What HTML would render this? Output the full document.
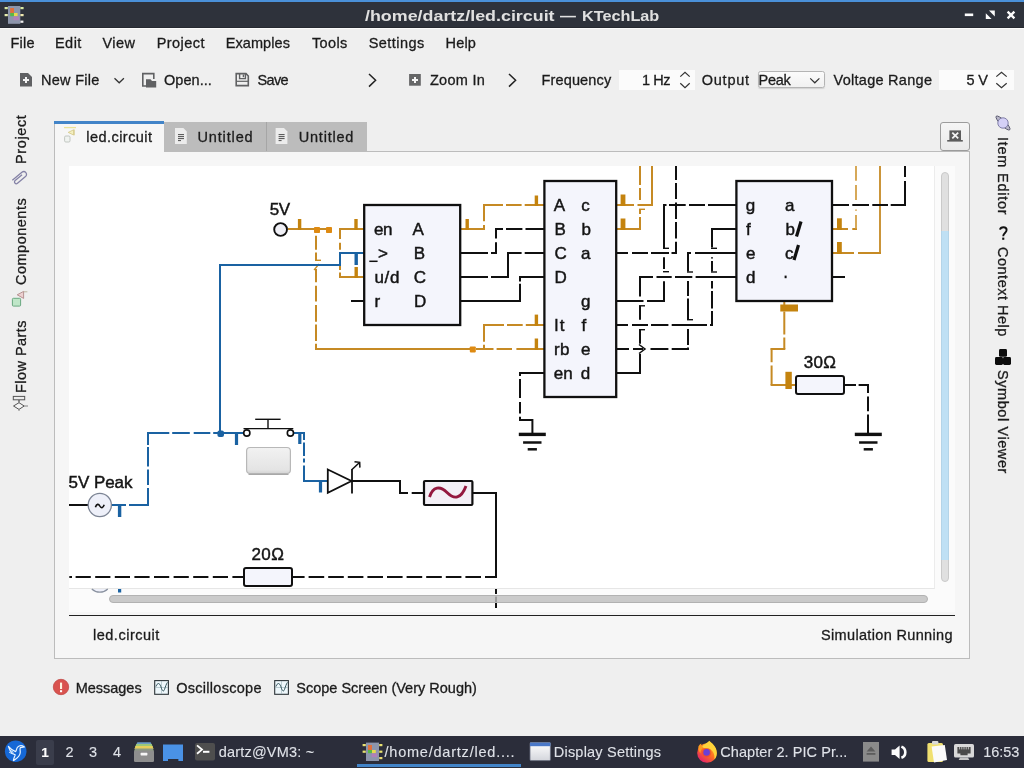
<!DOCTYPE html>
<html><head><meta charset="utf-8"><title>KTechLab</title>
<style>
html,body{margin:0;padding:0}
body{width:1024px;height:768px;overflow:hidden;background:#efefef;position:relative;font-family:"Liberation Sans",sans-serif}
.a{position:absolute}
.t{position:absolute;white-space:nowrap;line-height:1em;-webkit-text-stroke:0.3px;transform-origin:0 0;font-family:"Liberation Sans",sans-serif}
svg{position:absolute;overflow:visible}
</style></head><body>
<!-- title bar -->
<div class="a" style="left:0;top:0;width:1024px;height:28px;background:#2e323b;border-bottom:1px solid #262930;box-sizing:border-box"></div>
<div class="a" style="left:0;top:0;width:1024px;height:2px;background:#4a90d9"></div>
<div class="a" style="left:0;top:28px;width:1024px;height:1px;background:#fafafa"></div>
<!-- tabs -->
<div class="a" style="left:164px;top:122px;width:203px;height:30px;background:#bcbcbc"></div>
<div class="a" style="left:266px;top:122px;width:1px;height:30px;background:#a6a6a6"></div>
<!-- frame -->
<div class="a" style="left:54px;top:151px;width:914px;height:506px;border:1px solid #bcbcbc;background:#f6f6f6"></div>
<div class="a" style="left:54px;top:121px;width:110px;height:31px;background:#f6f6f6;border-left:1px solid #bcbcbc;box-sizing:border-box"></div>
<div class="a" style="left:54px;top:121px;width:110px;height:3px;background:#4284c8"></div>
<!-- close tab button -->
<div class="a" style="left:940px;top:122px;width:28px;height:27px;border:1px solid #9c9c9c;border-radius:3px;background:linear-gradient(#f5f5f5,#eaeaea)"></div>
<!-- canvas -->
<div class="a" style="left:69px;top:166px;width:886px;height:446px;background:#fbfbfb"></div>
<div class="a" style="left:69px;top:166px;width:865px;height:422px;background:#ffffff;border-bottom:1px solid #e6e6e6;border-right:1px solid #ececec"></div>
<svg style="left:69px;top:166px" width="865" height="422" viewBox="69 166 865 422">
<path d="M288,229 H332" stroke="#c68a24" stroke-width="2" fill="none" />
<path d="M299.6,219 V230" stroke="#c4830e" stroke-width="3.4" fill="none" />
<path d="M316,235.7 V249.7 M316,252.4 V260.3 M316,269 V282.2 M316,285.7 V301.6 M316,305 V321.8 M316,324.4 V341 M316,343.7 V349" stroke="#c68a24" stroke-width="2" fill="none" />
<path d="M315,260.3 H321" stroke="#c68a24" stroke-width="1.4" fill="none" />
<path d="M314,270 L319,264" stroke="#c68a24" stroke-width="1.2" fill="none" />
<path d="M315,349 H470 M476,349 H493.5 M496.6,349 H512 M516.4,349 H544" stroke="#c68a24" stroke-width="2" fill="none" />
<path d="M339,229 H364" stroke="#c68a24" stroke-width="2" fill="none" />
<path d="M356,219 V230" stroke="#c4830e" stroke-width="3.4" fill="none" />
<path d="M340,229 V239 M340,242.7 V249.7 M340,265 V270 M340,272.6 V277" stroke="#c68a24" stroke-width="2" fill="none" />
<path d="M339,277 H364" stroke="#c68a24" stroke-width="2" fill="none" />
<path d="M356.2,267 V278" stroke="#c4830e" stroke-width="3.4" fill="none" />
<path d="M460,229 H485" stroke="#c68a24" stroke-width="2" fill="none" />
<path d="M467.2,219 V230" stroke="#c4830e" stroke-width="3.4" fill="none" />
<path d="M484,205 V221.3 M484,225 V229" stroke="#c68a24" stroke-width="2" fill="none" />
<path d="M483,205 H503 M506,205 H521.6 M524.7,205 H544" stroke="#c68a24" stroke-width="2" fill="none" />
<path d="M536.4,195.5 V206" stroke="#c4830e" stroke-width="3.4" fill="none" />
<path d="M483,325 H504 M507,325 H522.7 M525.8,325 H544" stroke="#c68a24" stroke-width="2" fill="none" />
<path d="M484,325 V341.7 M484,344.8 V349" stroke="#c68a24" stroke-width="2" fill="none" />
<path d="M536.4,314.6 V326" stroke="#c4830e" stroke-width="3.4" fill="none" />
<path d="M536.4,338.5 V350" stroke="#c4830e" stroke-width="3.4" fill="none" />
<path d="M616,205 H634 M637.5,205 H653" stroke="#c68a24" stroke-width="2" fill="none" />
<path d="M652,166 V205" stroke="#c68a24" stroke-width="2" fill="none" />
<path d="M623,194.5 V206" stroke="#c4830e" stroke-width="4.8" fill="none" />
<path d="M640,166 V185 M640,188 V200 M640,209 V214 M640,217 V229" stroke="#c68a24" stroke-width="2" fill="none" />
<path d="M639,209.3 H645" stroke="#c68a24" stroke-width="1.4" fill="none" />
<path d="M616,229 H641" stroke="#c68a24" stroke-width="2" fill="none" />
<path d="M623,218.5 V230" stroke="#c4830e" stroke-width="4.8" fill="none" />
<path d="M832,229 H848 M852.3,229 H857" stroke="#c68a24" stroke-width="2" fill="none" />
<path d="M856,166 V180.8 M856,185 V200 M856,209.5 V210.8 M856,215 V229" stroke="#d09a3c" stroke-width="1.7" fill="none" />
<path d="M839.4,218.3 V230" stroke="#c4830e" stroke-width="4.8" fill="none" />
<path d="M832,253 H854 M858,253 H881" stroke="#c68a24" stroke-width="2" fill="none" />
<path d="M880,166 V253" stroke="#c68a24" stroke-width="1.8" fill="none" />
<path d="M839.4,242 V254" stroke="#c4830e" stroke-width="4.8" fill="none" />
<path d="M784.3,300 V305 M784.3,311.4 V334.4 M784.3,337.6 V349" stroke="#c68a24" stroke-width="2" fill="none" />
<path d="M770.6,349 H785.3" stroke="#c68a24" stroke-width="2" fill="none" />
<path d="M771.6,348.3 V362.2 M771.6,365.4 V385" stroke="#c68a24" stroke-width="2" fill="none" />
<path d="M770.6,385 H796" stroke="#c68a24" stroke-width="2" fill="none" />
<rect x="780.3" y="304.5" width="17.7" height="7" fill="#c4830e" rx="0"/>
<path d="M788.6,371.8 V389" stroke="#c4830e" stroke-width="6.4" fill="none" />
<rect x="314" y="227" width="6" height="6" fill="#de8a12" rx="0.8"/>
<rect x="326" y="227" width="6" height="6" fill="#de8a12" rx="0.8"/>
<rect x="469.8" y="346.4" width="6" height="6" fill="#de8a12" rx="0.8"/>
<path d="M351,301 H364" stroke="#101010" stroke-width="2" fill="none" />
<path d="M460,253 H488 M491,253 H497" stroke="#101010" stroke-width="2" fill="none" />
<path d="M496,228.3 V238.4 M496,242.3 V253.3" stroke="#101010" stroke-width="2" fill="none" />
<path d="M495,229 H503 M506,229 H522.4 M525.5,229 H544" stroke="#101010" stroke-width="2" fill="none" />
<path d="M460,277 H488 M491,277 H509" stroke="#101010" stroke-width="2" fill="none" />
<path d="M508,252 V277" stroke="#101010" stroke-width="2" fill="none" />
<path d="M507,253 H521.6 M524.7,253 H544" stroke="#101010" stroke-width="2" fill="none" />
<path d="M460,301 H521" stroke="#101010" stroke-width="2" fill="none" />
<path d="M520,276 V281.4 M520,283.7 V301" stroke="#101010" stroke-width="2" fill="none" />
<path d="M519,277 H544" stroke="#101010" stroke-width="2" fill="none" />
<path d="M519,373 H544" stroke="#101010" stroke-width="2" fill="none" />
<path d="M520,373 V376 M520,379 V398 M520,402 V413.5 M520,416.7 V421" stroke="#101010" stroke-width="2" fill="none" />
<path d="M519,420 H533" stroke="#101010" stroke-width="2" fill="none" />
<path d="M532.4,419 V434" stroke="#101010" stroke-width="2" fill="none" />
<path d="M676,166 V180 M676,183 V199 M676,202.5 V219 M676,222 V238.5 M676,241.7 V254" stroke="#101010" stroke-width="2" fill="none" />
<path d="M616,253 H628 M632,253 H648 M651,253 H669 M671.5,253 H677" stroke="#101010" stroke-width="2" fill="none" />
<path d="M616,301 H643.5 M647,301 H665" stroke="#101010" stroke-width="2" fill="none" />
<path d="M664,204 V248 M664,257.3 V269 M664,281.2 V301" stroke="#101010" stroke-width="2" fill="none" />
<path d="M663,248.3 H669" stroke="#101010" stroke-width="1.4" fill="none" />
<path d="M663,271.7 H669" stroke="#101010" stroke-width="1.4" fill="none" />
<path d="M663,205 H666.5 M669,205 H685.7 M689,205 H705 M708,205 H736" stroke="#101010" stroke-width="2" fill="none" />
<path d="M616,325 H628 M632,325 H648 M651,325 H668.4 M671.7,325 H707 M710,325 H713" stroke="#101010" stroke-width="2" fill="none" />
<path d="M712,228 V247.6 M712,257.3 V258.6 M712,261 V271.4 M712,281 V288.5 M712,291 V308.4 M712,311 V325" stroke="#101010" stroke-width="2" fill="none" />
<path d="M711,248.3 H717" stroke="#101010" stroke-width="1.4" fill="none" />
<path d="M711,272 H717" stroke="#101010" stroke-width="1.4" fill="none" />
<path d="M711,229 H736" stroke="#101010" stroke-width="2" fill="none" />
<path d="M616,349 H629 M633,349 H643 M650.5,349 H668.4 M671.7,349 H689" stroke="#101010" stroke-width="2" fill="none" />
<path d="M688,252 V271.4 M688,281 V296 M688,298.5 V319.4 M688,329 V345 M688,347.5 V349" stroke="#101010" stroke-width="2" fill="none" />
<path d="M687,272 H693" stroke="#101010" stroke-width="1.4" fill="none" />
<path d="M687,319.7 H693" stroke="#101010" stroke-width="1.4" fill="none" />
<path d="M687,253 H691 M695,253 H736" stroke="#101010" stroke-width="2" fill="none" />
<path d="M616,373 H641" stroke="#101010" stroke-width="2" fill="none" />
<path d="M640,277 V296.5 M640,305.8 V319.7 M640,329.7 V343.7 M640,353.7 V373" stroke="#101010" stroke-width="2" fill="none" />
<path d="M639,305.8 H645" stroke="#101010" stroke-width="1.4" fill="none" />
<path d="M639,329.7 H645" stroke="#101010" stroke-width="1.4" fill="none" />
<path d="M639,344.5 L645,349 L639,353.5" stroke="#101010" stroke-width="1.5" fill="none" />
<path d="M639,277 H653 M656.5,277 H671.7 M675,277 H692.3 M695.6,277 H736" stroke="#101010" stroke-width="2" fill="none" />
<path d="M832,205 H849 M852.3,205 H869 M872.3,205 H888 M890.7,205 H906" stroke="#101010" stroke-width="2" fill="none" />
<path d="M905,166 V177 M905,181 V205" stroke="#101010" stroke-width="2" fill="none" />
<path d="M832,277 H845" stroke="#101010" stroke-width="2" fill="none" />
<path d="M844,385 H856 M858.6,385 H869" stroke="#101010" stroke-width="2" fill="none" />
<path d="M868,384 V393 M868,396.4 V411.3 M868,414.5 V434" stroke="#101010" stroke-width="2" fill="none" />
<path d="M69.3,577 H72 M75.6,577 H90.8 M95.2,577 H110.4 M114.8,577 H130.0 M134.4,577 H149.6 M154.0,577 H169.2 M173.6,577 H188.8 M193.2,577 H208.4 M212.8,577 H228.0 M232.4,577 H244" stroke="#101010" stroke-width="2" fill="none" />
<path d="M292,577 H304.6 M308.6,577 H324.2 M328.2,577 H343.8 M347.8,577 H363.4 M367.4,577 H383.0 M387.0,577 H402.6 M406.6,577 H422.2 M426.2,577 H441.8 M445.8,577 H461.4 M465.4,577 H481.0 M485.0,577 H496" stroke="#101010" stroke-width="2" fill="none" />
<path d="M496,493 V578" stroke="#101010" stroke-width="2" fill="none" />
<path d="M472,493 H497" stroke="#101010" stroke-width="2" fill="none" />
<path d="M352,481 H401" stroke="#101010" stroke-width="2" fill="none" />
<path d="M400,481 V494" stroke="#101010" stroke-width="2" fill="none" />
<path d="M400,493 H408 M411.7,493 H424" stroke="#101010" stroke-width="2" fill="none" />
<path d="M69,505 H88" stroke="#101010" stroke-width="2" fill="none" />
<path d="M518.8,434.4 H545.8" stroke="#101010" stroke-width="3.4" fill="none" />
<path d="M523.0999999999999,442.5 H541.5" stroke="#101010" stroke-width="2.5" fill="none" />
<path d="M527.6999999999999,449.3 H536.9" stroke="#101010" stroke-width="2.5" fill="none" />
<path d="M854.8,434.4 H881.8" stroke="#101010" stroke-width="3.4" fill="none" />
<path d="M859.0999999999999,442.5 H877.5" stroke="#101010" stroke-width="2.5" fill="none" />
<path d="M863.6999999999999,449.3 H872.9" stroke="#101010" stroke-width="2.5" fill="none" />
<path d="M219,265 H340 V253 H364" stroke="#1a62a2" stroke-width="2" fill="none" />
<path d="M356.2,253 V265" stroke="#1a62a2" stroke-width="3.4" fill="none" />
<path d="M220,265 V433" stroke="#1a62a2" stroke-width="2" fill="none" />
<path d="M147,433 H169.3 M172.2,433 H189.8 M193.7,433 H210.3 M213.2,433 H245.5" stroke="#1a62a2" stroke-width="2" fill="none" />
<path d="M148,433 V445 M148,447 V466.6 M148,469.6 V485 M148,488 V506" stroke="#1a62a2" stroke-width="2" fill="none" />
<rect x="217.4" y="430.4" width="6.6" height="6.6" rx="2" fill="#1a62a2"/>
<path d="M236.5,433 V445" stroke="#1a62a2" stroke-width="3.2" fill="none" />
<path d="M112,505 H126 M129,505 H149" stroke="#1a62a2" stroke-width="2" fill="none" />
<path d="M119.6,505 V517" stroke="#1a62a2" stroke-width="3.4" fill="none" />
<path d="M293.5,433 H305" stroke="#1a62a2" stroke-width="2" fill="none" />
<path d="M304,433 V440 M304,442.5 V456 M304,458.5 V462.5 M304,465.5 V481" stroke="#1a62a2" stroke-width="2" fill="none" />
<path d="M303,481 H328" stroke="#1a62a2" stroke-width="2" fill="none" />
<path d="M299.8,433 V444" stroke="#1a62a2" stroke-width="3.2" fill="none" />
<path d="M320.5,481 V492.5" stroke="#1a62a2" stroke-width="3.2" fill="none" />
<rect x="364.2" y="205" width="96" height="120" fill="#f4f5fc" stroke="#101010" stroke-width="2.3" rx="0"/>
<rect x="544.4" y="181" width="71.8" height="216" fill="#f4f5fc" stroke="#101010" stroke-width="2.3" rx="0"/>
<rect x="736.4" y="181" width="95.6" height="120" fill="#f4f5fc" stroke="#101010" stroke-width="2.3" rx="0"/>
<rect x="796" y="376" width="48" height="18" fill="#f4f5fc" stroke="#101010" stroke-width="2" rx="2"/>
<rect x="244" y="568" width="48" height="18" fill="#f4f5fc" stroke="#101010" stroke-width="2" rx="2"/>
<circle cx="280.6" cy="229.5" r="6.4" fill="#f0f0f6" stroke="#101010" stroke-width="1.9"/>
<circle cx="99.8" cy="505" r="11.6" fill="#eef0f9" stroke="#7c8494" stroke-width="1.3"/>
<path d="M95.4,507.3 C96.6,503.6 98.6,503.6 99.8,506 C101,508.4 103,508.4 104.2,504.8" stroke="#101010" stroke-width="1.6" fill="none" />
<path d="M369.3,261.3 H377.6" stroke="#101010" stroke-width="1.5" fill="none" />
<rect x="784.6" y="275.6" width="2" height="2.6" fill="#101010" rx="0"/>
<path d="M801,221.5 L796.5,236.5" stroke="#101010" stroke-width="3.2" fill="none" />
<path d="M798.5,245 L794,260" stroke="#101010" stroke-width="3.2" fill="none" />
<path d="M243.5,428.6 H293.3" stroke="#101010" stroke-width="1.4" fill="none" />
<path d="M268,419.2 V428.6" stroke="#101010" stroke-width="1.4" fill="none" />
<path d="M255.2,419.3 H280.6" stroke="#101010" stroke-width="1.4" fill="none" />
<circle cx="246.8" cy="433" r="3.1" fill="#fff" stroke="#101010" stroke-width="1.6"/>
<circle cx="290.4" cy="433" r="3.1" fill="#fff" stroke="#101010" stroke-width="1.6"/>
<defs><linearGradient id="bg" x1="0" y1="0" x2="0" y2="1"><stop offset="0" stop-color="#f2f2f2"/><stop offset="0.85" stop-color="#e4e4e4"/><stop offset="1" stop-color="#d4d4d4"/></linearGradient></defs>
<rect x="246.6" y="447.5" width="43.8" height="26" rx="3.5" fill="url(#bg)" stroke="#b8b8b8" stroke-width="1.2"/>
<path d="M248.5,474.3 H288.5" stroke="#a8a8a8" stroke-width="1.2" fill="none" />
<path d="M327.8,469.5 L351.5,481 L327.8,492.7 Z" fill="#fff" stroke="#101010" stroke-width="1.8"/>
<path d="M352,469 V493.5" stroke="#101010" stroke-width="1.8" fill="none" />
<path d="M352,469.5 L359,463 M354.5,461.7 L359.7,462.3 L359.9,467.6" stroke="#101010" stroke-width="1.5" fill="none" />
<rect x="424" y="481" width="48.4" height="24" fill="#f3f0f6" stroke="#101010" stroke-width="2.2" rx="1"/>
<path d="M429.5,497 C433,486.5 440,485.5 447,492.5 C454,499.5 461,499.5 466,486" stroke="#94193f" stroke-width="2.9" fill="none" />
</svg>
<svg style="left:69px;top:588px" width="865" height="24" viewBox="69 588 865 24">
<path d="M496,589 V608" stroke="#101010" stroke-width="2" stroke-dasharray="5 2.5 14 3"/>
<path d="M91.8,589 A11.6,11.6 0 0 0 107.8,589" stroke="#8a92a0" stroke-width="1.2" fill="#eef0f9"/>
<path d="M119.6,589 V592.5" stroke="#1a62a2" stroke-width="3.2"/>
</svg>
<!-- scrollbars -->
<div class="a" style="left:109px;top:595px;width:819px;height:8px;border-radius:4px;background:rgba(190,190,190,0.8);border:1px solid #b2b2b2;box-sizing:border-box"></div>
<div class="a" style="left:941px;top:172px;width:8px;height:410px;border-radius:4px;background:#e0e0e0;border:1px solid #cacaca;box-sizing:border-box"></div>
<div class="a" style="left:941px;top:231px;width:8px;height:329px;background:#bfe0f4;border-left:1px solid #b4d4e8;border-right:1px solid #b4d4e8;box-sizing:border-box"></div>
<!-- status separator -->
<div class="a" style="left:69px;top:615px;width:886px;height:1px;background:#222"></div>
<!-- combobox, spinboxes -->
<div class="a" style="left:619px;top:70px;width:76px;height:20px;background:#fbfbfb"></div>
<div class="a" style="left:939px;top:70px;width:75px;height:20px;background:#fbfbfb"></div>
<div class="a" style="left:758px;top:71px;width:65px;height:15px;border:1px solid #b4b4b4;border-radius:2.5px;background:linear-gradient(#fbfbfb,#f1f1f1);box-shadow:0 1px 1px rgba(0,0,0,0.12)"></div>
<!-- taskbar -->
<div class="a" style="left:0;top:736px;width:1024px;height:32px;background:#2b2d3a"></div>
<div class="a" style="left:36px;top:740px;width:18px;height:25px;background:#3a3d4b;border-radius:2px"></div>
<div class="a" style="left:357px;top:764px;width:164px;height:3px;background:#4284c8"></div>
<svg style="left:0;top:0" width="1024" height="768" viewBox="0 0 1024 768">
<defs>
<linearGradient id="ffg" x1="0" y1="0" x2="0" y2="1"><stop offset="0" stop-color="#ffbd2e"/><stop offset="0.55" stop-color="#ff6a1f"/><stop offset="1" stop-color="#e8255f"/></linearGradient>
<linearGradient id="ffg2" x1="0.85" y1="0.1" x2="0.2" y2="0.95"><stop offset="0" stop-color="#ffb52a"/><stop offset="0.5" stop-color="#ff6a22"/><stop offset="1" stop-color="#e21f6e"/></linearGradient>
<linearGradient id="dsg" x1="0" y1="0" x2="0" y2="1"><stop offset="0" stop-color="#ffffff"/><stop offset="1" stop-color="#d4d6dc"/></linearGradient>
</defs>
<!-- app icon in title bar -->
<g>
<rect x="8" y="6" width="12.3" height="17.8" fill="#8c95ab"/>
<rect x="10.2" y="8" width="3.8" height="5.2" fill="#e0703c"/>
<rect x="10.2" y="13" width="3.8" height="3.2" fill="#58b848"/>
<rect x="14" y="13" width="3.6" height="3.2" fill="#e6d850"/>
<rect x="13.5" y="16.4" width="5.5" height="3.8" fill="#b080b8"/>
<rect x="4.6" y="7" width="3.2" height="2.2" fill="#d8e8a0"/><rect x="4.6" y="14" width="3.2" height="2.2" fill="#e8f0b0"/>
<rect x="20.4" y="7" width="3.2" height="2.2" fill="#d8e8a0"/><rect x="20.4" y="14" width="3.2" height="2.2" fill="#efe8b0"/>
<rect x="20.4" y="20.6" width="3" height="2.2" fill="#f0f0f0"/>
</g>
<!-- window buttons -->
<rect x="964.8" y="13.5" width="8.4" height="2.6" fill="#fcfcfc"/>
<path d="M989,10.600 H994.800 V16.400 Z M985.800,13.200 V19 H991.600 Z" fill="#fcfcfc"/>
<path d="M1007.600,11.600 L1014.400,18.400 M1014.400,11.600 L1007.600,18.400" stroke="#fcfcfc" stroke-width="2.300"/>
<!-- toolbar: new file -->
<path d="M20,73 H28 L32,77 V86.5 H20 Z" fill="#606163"/>
<path d="M23,80 H29 M26,77 V83" stroke="#f4f4f4" stroke-width="2"/>
<path d="M114.5,78.3 L119.2,82.8 L123.9,78.3" stroke="#333" stroke-width="1.3" fill="none"/>
<!-- open -->
<path d="M147,86 H142.8 V73.6 H153.8 V79" stroke="#606163" stroke-width="1.6" fill="none"/>
<path d="M146,79.3 H150.5 L152,81 H156.2 V87.4 H146 Z" fill="#606163"/>
<!-- save -->
<path d="M236.2,73.6 H246 L248.3,76 V85.6 H236.2 Z" stroke="#606163" stroke-width="1.6" fill="none"/>
<path d="M239.6,73.6 V78.6 H245.4 V73.6" stroke="#606163" stroke-width="1.4" fill="none"/>
<path d="M243.4,74.5 V77.2" stroke="#606163" stroke-width="1.4"/>
<path d="M236.2,81.3 H248.3" stroke="#606163" stroke-width="1.2"/>
<!-- chevrons -->
<path d="M369,74 L375.6,80.3 L369,86.6" stroke="#222" stroke-width="1.5" fill="none"/>
<path d="M509,74 L515.6,80.3 L509,86.6" stroke="#222" stroke-width="1.5" fill="none"/>
<!-- zoom in -->
<rect x="409.1" y="74" width="11.7" height="11.7" fill="#666768"/>
<path d="M412,79.9 H418 M415,76.9 V82.9" stroke="#f6f6f6" stroke-width="2"/>
<!-- spin arrows -->
<path d="M680.3,76.6 L685,72.2 L689.7,76.6 M680.3,83.2 L685,87.6 L689.7,83.2" stroke="#333" stroke-width="1.2" fill="none"/>
<path d="M996.3,76.6 L1001.5,72.2 L1006.7,76.6 M996.3,83.2 L1001.5,87.6 L1006.7,83.2" stroke="#333" stroke-width="1.2" fill="none"/>
<path d="M810.2,78.4 L814.8,82.8 L819.4,78.4" stroke="#333" stroke-width="1.2" fill="none"/>
<!-- close-tab icon -->
<rect x="949.4" y="130.4" width="11.6" height="10" fill="#5c5c5c"/>
<path d="M952.3,132.6 L958.2,138.4 M958.2,132.6 L952.3,138.4" stroke="#f4f4f4" stroke-width="1.8"/>
<rect x="947.2" y="140" width="15.6" height="1.6" fill="#5c5c5c"/>
<!-- tab icons -->
<g opacity="0.75">
<path d="M64,127.6 H76" stroke="#e6dc78" stroke-width="1.3"/>
<path d="M68.2,132.4 L73.6,129.8 V135 Z" fill="#f4eeb0" stroke="#c8b860" stroke-width="0.8"/>
<path d="M74.2,129.5 V135.3" stroke="#c8b860" stroke-width="0.9"/>
<rect x="64.6" y="136" width="5.4" height="6" rx="1.2" fill="#eef2ee" stroke="#a8b0a8" stroke-width="0.9"/>
</g>
<g>
<path d="M175,128 H183.4 L186.8,131.4 V144 H175 Z" fill="#ececec"/>
<path d="M178,134.6 H184 M178,136.6 H184 M178,138.6 H184 M178,140.6 H181" stroke="#3c3c3c" stroke-width="0.9"/>
</g>
<g transform="translate(100.6,0)">
<path d="M175,128 H183.4 L186.8,131.4 V144 H175 Z" fill="#ececec"/>
<path d="M178,134.6 H184 M178,136.6 H184 M178,138.6 H184 M178,140.6 H181" stroke="#3c3c3c" stroke-width="0.9"/>
</g>
<!-- left sidebar icons -->
<g transform="translate(19.5,178) rotate(-40)" fill="none" stroke="#8482a6" stroke-width="1.3">
<path d="M-7,-2.8 H5.5 A2.8,2.8 0 0 1 5.5,2.8 H-5 A1.8,1.8 0 0 1 -5,-0.8 H4"/>
</g>
<rect x="12.4" y="298.300" width="8.200" height="7.800" rx="1" fill="#bfe6c8" stroke="#6aa880" stroke-width="1"/>
<path d="M17.2,294.800 L23.600,291.400 V298.400 Z" fill="#ecd0d0" stroke="#b08a8a" stroke-width="0.9"/>
<path d="M23.600,291.800 H27.400" stroke="#b8b098" stroke-width="0.9"/>
<rect x="13.300" y="396.400" width="11.400" height="3.400" fill="#ececec" stroke="#555" stroke-width="1"/>
<path d="M19,400 V402.600" stroke="#555" stroke-width="1.300"/>
<path d="M13.500,406 L19,402.700 L24.200,406 L19,409.400 Z" fill="#f4f4f4" stroke="#555" stroke-width="1"/>
<path d="M24.200,406 H28 M19,409.500 V411" stroke="#777" stroke-width="0.9"/>
<!-- right sidebar icons -->
<g transform="translate(1003,123) rotate(45)">
<ellipse cx="0" cy="0" rx="9.600" ry="2.600" fill="#b8b6c8" stroke="#55546a" stroke-width="0.9"/>
<circle cx="0" cy="0" r="5.200" fill="#d4d0f6" stroke="#7c7aa4" stroke-width="0.9"/>
</g>
<path d="M1000,229.600 C1000.600,226.600 1006.600,226.300 1006.600,230 C1006.600,232.800 1003.200,233.200 1003.200,236.200" stroke="#111" stroke-width="1.900" fill="none"/>
<rect x="1002.200" y="237.600" width="2.100" height="2.200" fill="#111"/>
<rect x="999" y="349" width="8" height="7.800" rx="1.400" fill="#0c0c0c"/>
<rect x="995" y="357" width="8" height="8" rx="1.400" fill="#0c0c0c"/><rect x="1003" y="357" width="8" height="8" rx="1.400" fill="#0c0c0c"/>
<!-- bottom: messages icon -->
<circle cx="61" cy="687" r="7.700" fill="#d9534f" stroke="#c24a48" stroke-width="0.8"/>
<rect x="60" y="682.600" width="2.100" height="6.400" fill="#fff4e0"/><rect x="60" y="690.200" width="2.100" height="2" fill="#fff"/>
<!-- scope icons -->
<g>
<rect x="154.700" y="680.600" width="13.700" height="13.700" fill="#eef7fb" stroke="#2c3438" stroke-width="1.100"/>
<path d="M161.500,681 V694 M155,687.500 H168" stroke="#9ab0b8" stroke-width="0.600"/>
<path d="M156,686.500 C157.500,682.500 159.500,682.500 160.800,686.500 C162,690.500 163.500,692.500 164.500,689.500 C165.500,686.500 166.300,684 167.400,682.400" stroke="#34545c" stroke-width="1" fill="none"/>
</g>
<g transform="translate(120,0)">
<rect x="154.700" y="680.600" width="13.700" height="13.700" fill="#eef7fb" stroke="#2c3438" stroke-width="1.100"/>
<path d="M161.500,681 V694 M155,687.500 H168" stroke="#9ab0b8" stroke-width="0.600"/>
<path d="M156,686.500 C157.500,682.500 159.500,682.500 160.800,686.500 C162,690.500 163.500,692.500 164.500,689.500 C165.500,686.500 166.300,684 167.400,682.400" stroke="#34545c" stroke-width="1" fill="none"/>
</g>
<!-- taskbar icons -->
<circle cx="15.700" cy="751.200" r="10.800" fill="#1668d6"/>
<path d="M8.400,746.400 C9.600,750.400 11.800,753.800 15.200,754.800 C14.600,756.800 13.600,758.200 13.400,760.600 C16,758.600 19.600,757.200 20.200,753 C20.600,750.400 19.400,748.800 20.400,747.600 L24.400,747 C22.400,745.600 19.400,745.400 17.600,747.200 C16.200,748.600 16.600,750.800 15.600,751.600 C12.800,750.600 10.400,748.800 8.400,746.400 Z" fill="none" stroke="#e8f4ff" stroke-width="1.200" stroke-linejoin="round"/>
<path d="M9.400,749.600 L13.400,752.400 M9,752 L12.400,754" stroke="#d0e8ff" stroke-width="1"/>
<!-- file manager -->
<path d="M137.400,742.200 H150.600 L152,745 H136 Z" fill="#6a9cc4"/>
<path d="M136.400,744 H151.600 L153,747 H135 Z" fill="#9cc878"/>
<path d="M135.600,746 H152.400 L153.600,749 H134.400 Z" fill="#e6cf5a"/>
<path d="M135,748.400 H153 L154,751.400 H134 Z" fill="#8c9a82"/>
<rect x="134" y="750.600" width="20" height="11.400" rx="1.200" fill="#8e8e8e"/>
<rect x="140.600" y="752.800" width="6.800" height="2.600" rx="0.600" fill="#f6f6f6"/>
<!-- blue desktop icon -->
<path d="M163,744.600 H183 V761 H178.400 V759 H168 V761 H163 Z" fill="#4a92e6"/>
<!-- terminal -->
<rect x="195" y="743" width="20" height="17.600" rx="2" fill="#4e4e4e"/>
<path d="M197,745.400 L202,749.600 L197,753.800" stroke="#fff" stroke-width="1.800" fill="none"/>
<path d="M203,751.800 H209.400" stroke="#fff" stroke-width="2"/>
<!-- ktechlab task icon -->
<rect x="366" y="742.600" width="13" height="18.400" fill="#8c95ab"/>
<rect x="368" y="745" width="4" height="5.200" fill="#e0703c"/><rect x="368" y="750" width="4" height="3.200" fill="#58b848"/>
<rect x="372" y="750" width="3.800" height="3.200" fill="#e6d850"/><rect x="371.600" y="753.400" width="5.600" height="3.800" fill="#b080b8"/>
<rect x="362.600" y="744" width="3.200" height="2.200" fill="#e8e070"/><rect x="362.600" y="750.600" width="3.200" height="2.200" fill="#e8e070"/>
<rect x="379.200" y="744" width="3.200" height="2.200" fill="#e8e070"/><rect x="379.200" y="750.600" width="3.200" height="2.200" fill="#e8e070"/><rect x="379.200" y="757" width="3.200" height="2.200" fill="#e8d870"/>
<!-- display settings -->
<rect x="530" y="742.600" width="20.400" height="18" rx="1" fill="url(#dsg)" stroke="#6a7080" stroke-width="0.800"/>
<rect x="530" y="742.600" width="20.400" height="3.600" fill="#4a78c8"/>
<!-- firefox -->
<circle cx="707" cy="753" r="9.800" fill="url(#ffg2)"/>
<path d="M701.600,747 C703.600,744.400 706.600,743.600 709.400,740.800 C711.600,743 716.800,746.400 716.800,753 C716.800,756 715.600,758.400 714.400,759.600 C715.200,754 712.600,749.400 707.600,748.600 C705.400,748.200 703.200,748.200 701.600,747 Z" fill="#ffd43a"/>
<path d="M698.400,746.600 C699.200,744.800 700.400,743.800 701.200,743.400 C701.200,745 702.200,746.400 703.400,747.400 C701.400,749 700.400,751 700.400,753.400 C699,751.400 698,749 698.400,746.600 Z" fill="#ff9a1f"/>
<circle cx="706.800" cy="752.600" r="4.600" fill="#e8452c" opacity="0.550"/>
<circle cx="706.600" cy="752.400" r="3.300" fill="#6b3fd6"/>
<!-- tray: eject -->
<rect x="863" y="742" width="16" height="19.600" fill="#8a8a8a"/>
<path d="M866.600,751.400 L871,746.600 L875.400,751.400 Z" fill="#5c5c5c"/><rect x="866.600" y="753" width="8.800" height="1.800" fill="#5c5c5c"/>
<!-- volume -->
<path d="M891.600,749.400 H895 L899.600,745.400 V759 L895,755 H891.600 Z" fill="#fcfcfc"/>
<path d="M901.4,746.6 C906.6,748.6 906.6,755.8 901.4,757.8" stroke="#fcfcfc" stroke-width="2.6" fill="none"/>

<!-- clipboard -->
<rect x="927.400" y="743" width="15.600" height="19" rx="1.500" fill="#f0e070"/>
<rect x="932" y="741" width="6.400" height="3.600" rx="1" fill="#d8d8d8"/>
<path d="M931.600,746.600 L944.800,745 L947,760 L934,762.400 Z" fill="#fafafa"/>
<!-- network -->
<rect x="954" y="744" width="20" height="13.600" rx="1.600" fill="#d8d8d8"/>
<path d="M957.400,747 H970.600 V753.600 H967.600 V755.200 H960.400 V753.600 H957.400 Z" fill="#4a4a4a"/>
<path d="M959.600,747 V749.400 M961.800,747 V749.400 M964,747 V749.400 M966.200,747 V749.400 M968.400,747 V749.400" stroke="#d8d8d8" stroke-width="0.800"/>
<path d="M960,757.600 H968 L969.400,760 H958.600 Z" fill="#c4c4c4"/>
</svg>

<div class="a" style="left:0;top:0;width:1024px;height:768px;will-change:transform">
<span class="t" id="t0" style="font-size:14.5px;color:#1b1b1b;font-weight:400;letter-spacing:0.200px;left:10.50px;top:36.03px;">File</span>
<span class="t" id="t1" style="font-size:14.5px;color:#1b1b1b;font-weight:400;letter-spacing:0.450px;left:55.00px;top:36.03px;">Edit</span>
<span class="t" id="t2" style="font-size:14.5px;color:#1b1b1b;font-weight:400;letter-spacing:0.450px;left:102.50px;top:36.03px;">View</span>
<span class="t" id="t3" style="font-size:14.5px;color:#1b1b1b;font-weight:400;letter-spacing:0.436px;left:156.75px;top:36.03px;">Project</span>
<span class="t" id="t4" style="font-size:14.5px;color:#1b1b1b;font-weight:400;letter-spacing:0.069px;left:225.75px;top:36.03px;">Examples</span>
<span class="t" id="t5" style="font-size:14.5px;color:#1b1b1b;font-weight:400;letter-spacing:0.360px;left:312.00px;top:36.03px;">Tools</span>
<span class="t" id="t6" style="font-size:14.5px;color:#1b1b1b;font-weight:400;letter-spacing:0.444px;left:368.75px;top:36.03px;">Settings</span>
<span class="t" id="t7" style="font-size:14.5px;color:#1b1b1b;font-weight:400;letter-spacing:0.200px;left:445.50px;top:36.03px;">Help</span>
<span class="t" id="t8" style="font-size:14.5px;color:#1b1b1b;font-weight:400;letter-spacing:0.287px;left:41.00px;top:73.43px;">New File</span>
<span class="t" id="t9" style="font-size:14.5px;color:#1b1b1b;font-weight:400;letter-spacing:0.043px;left:164.00px;top:73.43px;">Open...</span>
<span class="t" id="t10" style="font-size:14.5px;color:#1b1b1b;font-weight:400;letter-spacing:-0.675px;left:257.50px;top:73.43px;">Save</span>
<span class="t" id="t11" style="font-size:14.5px;color:#1b1b1b;font-weight:400;letter-spacing:0.257px;left:430.00px;top:73.43px;">Zoom In</span>
<span class="t" id="t12" style="font-size:14.5px;color:#1b1b1b;font-weight:400;letter-spacing:0.144px;left:541.50px;top:73.43px;">Frequency</span>
<span class="t" id="t13" style="font-size:14.5px;color:#1b1b1b;font-weight:400;letter-spacing:-0.425px;left:642.00px;top:73.43px;">1 Hz</span>
<span class="t" id="t14" style="font-size:14.5px;color:#1b1b1b;font-weight:400;letter-spacing:0.758px;left:701.75px;top:73.43px;">Output</span>
<span class="t" id="t15" style="font-size:14.5px;color:#1b1b1b;font-weight:400;letter-spacing:-0.325px;left:758.60px;top:73.43px;">Peak</span>
<span class="t" id="t16" style="font-size:14.5px;color:#1b1b1b;font-weight:400;letter-spacing:0.277px;left:833.50px;top:73.43px;">Voltage Range</span>
<span class="t" id="t17" style="font-size:14.5px;color:#1b1b1b;font-weight:400;letter-spacing:-0.233px;left:966.60px;top:73.43px;">5 V</span>
<span class="t" id="t18" style="font-size:14.5px;color:#1b1b1b;font-weight:400;letter-spacing:0.459px;left:86.25px;top:129.93px;">led.circuit</span>
<span class="t" id="t19" style="font-size:14.5px;color:#1b1b1b;font-weight:400;letter-spacing:0.850px;left:197.50px;top:129.93px;">Untitled</span>
<span class="t" id="t20" style="font-size:14.5px;color:#1b1b1b;font-weight:400;letter-spacing:0.787px;left:298.75px;top:129.93px;">Untitled</span>
<span class="t" id="t21" style="font-size:14.5px;color:#1b1b1b;font-weight:400;letter-spacing:0.505px;left:93.00px;top:628.13px;">led.circuit</span>
<span class="t" id="t22" style="font-size:14.5px;color:#1b1b1b;font-weight:400;letter-spacing:0.336px;left:821.00px;top:628.13px;">Simulation Running</span>
<span class="t" id="t23" style="font-size:14.5px;color:#1b1b1b;font-weight:400;letter-spacing:-0.025px;left:75.75px;top:681.43px;">Messages</span>
<span class="t" id="t24" style="font-size:14.5px;color:#1b1b1b;font-weight:400;letter-spacing:0.275px;left:176.25px;top:681.43px;">Oscilloscope</span>
<span class="t" id="t25" style="font-size:14.5px;color:#1b1b1b;font-weight:400;letter-spacing:0.002px;left:296.25px;top:681.43px;">Scope Screen (Very Rough)</span>
<span class="t" id="t26" style="font-size:13.6px;color:#ffffff;font-weight:700;letter-spacing:-1.500px;left:41.30px;top:745.89px;-webkit-text-stroke:0.1px;">1</span>
<span class="t" id="t27" style="font-size:14.5px;color:#dfe2e8;font-weight:400;letter-spacing:-0.700px;left:65.50px;top:745.13px;-webkit-text-stroke:0.1px;">2</span>
<span class="t" id="t28" style="font-size:14.5px;color:#dfe2e8;font-weight:400;letter-spacing:-0.700px;left:89.00px;top:745.13px;-webkit-text-stroke:0.1px;">3</span>
<span class="t" id="t29" style="font-size:14.5px;color:#dfe2e8;font-weight:400;letter-spacing:0.300px;left:113.00px;top:745.13px;-webkit-text-stroke:0.1px;">4</span>
<span class="t" id="t30" style="font-size:14.5px;color:#dfe2e8;font-weight:400;letter-spacing:0.192px;left:218.75px;top:745.13px;-webkit-text-stroke:0.1px;">dartz@VM3: ~</span>
<span class="t" id="t31" style="font-size:14.5px;color:#dfe2e8;font-weight:400;letter-spacing:0.779px;left:384.50px;top:745.13px;-webkit-text-stroke:0.1px;">/home/dartz/led....</span>
<span class="t" id="t32" style="font-size:14.5px;color:#dfe2e8;font-weight:400;letter-spacing:0.222px;left:553.75px;top:745.13px;-webkit-text-stroke:0.1px;">Display Settings</span>
<span class="t" id="t33" style="font-size:14.5px;color:#dfe2e8;font-weight:400;letter-spacing:0.065px;left:720.30px;top:745.13px;-webkit-text-stroke:0.1px;">Chapter 2. PIC Pr...</span>
<span class="t" id="t34" style="font-size:14.5px;color:#dfe2e8;font-weight:400;letter-spacing:-0.080px;left:983.30px;top:745.13px;-webkit-text-stroke:0.1px;">16:53</span>
<span class="t" id="t35" style="font-size:15px;color:#e0e0e0;font-weight:700;letter-spacing:0.000px;left:365.00px;top:8.00px;transform:scaleX(1.1906);-webkit-text-stroke:0;">/home/dartz/led.circuit</span>
<span class="t" id="t36" style="font-size:15px;color:#e0e0e0;font-weight:700;letter-spacing:0.000px;left:559.80px;top:8.00px;transform:scaleX(1.0600);-webkit-text-stroke:0;">—</span>
<span class="t" id="t37" style="font-size:15px;color:#e0e0e0;font-weight:700;letter-spacing:0.000px;left:581.70px;top:8.00px;transform:scaleX(1.0817);-webkit-text-stroke:0;">KTechLab</span>
<span class="t" id="t38" style="font-size:14.5px;color:#1b1b1b;font-weight:400;letter-spacing:0.614px;left:13.98px;top:164.00px;transform:rotate(-90deg) scaleX(1.0000);">Project</span>
<span class="t" id="t39" style="font-size:14.5px;color:#1b1b1b;font-weight:400;letter-spacing:0.500px;left:13.98px;top:285.00px;transform:rotate(-90deg) scaleX(1.0000);">Components</span>
<span class="t" id="t40" style="font-size:14.5px;color:#1b1b1b;font-weight:400;letter-spacing:0.450px;left:13.98px;top:392.50px;transform:rotate(-90deg) scaleX(1.0000);">Flow Parts</span>
<span class="t" id="t41" style="font-size:14.5px;color:#1b1b1b;font-weight:400;letter-spacing:0.750px;left:1009.77px;top:136.75px;transform:rotate(90deg) scaleX(1.0000);">Item Editor</span>
<span class="t" id="t42" style="font-size:14.5px;color:#1b1b1b;font-weight:400;letter-spacing:0.500px;left:1009.77px;top:246.75px;transform:rotate(90deg) scaleX(1.0000);">Context Help</span>
<span class="t" id="t43" style="font-size:14.5px;color:#1b1b1b;font-weight:400;letter-spacing:0.577px;left:1009.77px;top:370.00px;transform:rotate(90deg) scaleX(1.0000);">Symbol Viewer</span>
<span class="t" id="t44" style="font-size:17px;color:#141414;font-weight:400;letter-spacing:-0.350px;left:269.75px;top:200.81px;-webkit-text-stroke:0.45px;">5V</span>
<span class="t" id="t45" style="font-size:17px;color:#141414;font-weight:400;letter-spacing:-0.250px;left:373.90px;top:221.11px;-webkit-text-stroke:0.45px;">en</span>
<span class="t" id="t46" style="font-size:17px;color:#141414;font-weight:400;letter-spacing:0.733px;left:374.40px;top:269.11px;-webkit-text-stroke:0.45px;">u/d</span>
<span class="t" id="t47" style="font-size:17px;color:#141414;font-weight:400;letter-spacing:-1.900px;left:374.50px;top:293.11px;-webkit-text-stroke:0.45px;">r</span>
<span class="t" id="t48" style="font-size:17px;color:#141414;font-weight:400;letter-spacing:0.800px;left:412.50px;top:221.11px;-webkit-text-stroke:0.45px;">A</span>
<span class="t" id="t49" style="font-size:17px;color:#141414;font-weight:400;letter-spacing:-1.500px;left:413.80px;top:245.11px;-webkit-text-stroke:0.45px;">B</span>
<span class="t" id="t50" style="font-size:17px;color:#141414;font-weight:400;letter-spacing:-2.000px;left:413.80px;top:269.11px;-webkit-text-stroke:0.45px;">C</span>
<span class="t" id="t51" style="font-size:17px;color:#141414;font-weight:400;letter-spacing:-1.700px;left:414.00px;top:293.11px;-webkit-text-stroke:0.45px;">D</span>
<span class="t" id="t52" style="font-size:17px;color:#141414;font-weight:400;letter-spacing:-0.700px;left:378.00px;top:244.61px;-webkit-text-stroke:0.45px;">&gt;</span>
<span class="t" id="t53" style="font-size:17px;color:#141414;font-weight:400;letter-spacing:0.550px;left:553.75px;top:197.11px;-webkit-text-stroke:0.45px;">A</span>
<span class="t" id="t54" style="font-size:17px;color:#141414;font-weight:400;letter-spacing:-1.200px;left:554.50px;top:221.11px;-webkit-text-stroke:0.45px;">B</span>
<span class="t" id="t55" style="font-size:17px;color:#141414;font-weight:400;letter-spacing:-1.700px;left:554.50px;top:245.11px;-webkit-text-stroke:0.45px;">C</span>
<span class="t" id="t56" style="font-size:17px;color:#141414;font-weight:400;letter-spacing:-1.200px;left:554.50px;top:269.11px;-webkit-text-stroke:0.45px;">D</span>
<span class="t" id="t57" style="font-size:17px;color:#141414;font-weight:400;letter-spacing:1.400px;left:554.50px;top:317.11px;-webkit-text-stroke:0.45px;">lt</span>
<span class="t" id="t58" style="font-size:17px;color:#141414;font-weight:400;letter-spacing:0.400px;left:554.00px;top:341.11px;-webkit-text-stroke:0.45px;">rb</span>
<span class="t" id="t59" style="font-size:17px;color:#141414;font-weight:400;letter-spacing:0.025px;left:553.75px;top:365.11px;-webkit-text-stroke:0.45px;">en</span>
<span class="t" id="t60" style="font-size:17px;color:#141414;font-weight:400;letter-spacing:-1.200px;left:581.25px;top:197.11px;-webkit-text-stroke:0.45px;">c</span>
<span class="t" id="t61" style="font-size:17px;color:#141414;font-weight:400;letter-spacing:-0.200px;left:581.50px;top:221.11px;-webkit-text-stroke:0.45px;">b</span>
<span class="t" id="t62" style="font-size:17px;color:#141414;font-weight:400;letter-spacing:-0.200px;left:581.00px;top:245.11px;-webkit-text-stroke:0.45px;">a</span>
<span class="t" id="t63" style="font-size:17px;color:#141414;font-weight:400;letter-spacing:0.300px;left:581.00px;top:293.11px;-webkit-text-stroke:0.45px;">g</span>
<span class="t" id="t64" style="font-size:17px;color:#141414;font-weight:400;letter-spacing:1.800px;left:581.50px;top:317.11px;-webkit-text-stroke:0.45px;">f</span>
<span class="t" id="t65" style="font-size:17px;color:#141414;font-weight:400;letter-spacing:-0.200px;left:581.00px;top:341.11px;-webkit-text-stroke:0.45px;">e</span>
<span class="t" id="t66" style="font-size:17px;color:#141414;font-weight:400;letter-spacing:0.550px;left:580.75px;top:365.11px;-webkit-text-stroke:0.45px;">d</span>
<span class="t" id="t67" style="font-size:17px;color:#141414;font-weight:400;letter-spacing:0.050px;left:745.75px;top:197.11px;-webkit-text-stroke:0.45px;">g</span>
<span class="t" id="t68" style="font-size:17px;color:#141414;font-weight:400;letter-spacing:2.300px;left:746.00px;top:221.11px;-webkit-text-stroke:0.45px;">f</span>
<span class="t" id="t69" style="font-size:17px;color:#141414;font-weight:400;letter-spacing:-0.200px;left:746.00px;top:245.11px;-webkit-text-stroke:0.45px;">e</span>
<span class="t" id="t70" style="font-size:17px;color:#141414;font-weight:400;letter-spacing:0.300px;left:746.00px;top:269.11px;-webkit-text-stroke:0.45px;">d</span>
<span class="t" id="t71" style="font-size:17px;color:#141414;font-weight:400;letter-spacing:0.050px;left:785.00px;top:197.11px;-webkit-text-stroke:0.45px;">a</span>
<span class="t" id="t72" style="font-size:17px;color:#141414;font-weight:400;letter-spacing:-0.200px;left:785.50px;top:221.11px;-webkit-text-stroke:0.45px;">b</span>
<span class="t" id="t73" style="font-size:17px;color:#141414;font-weight:400;letter-spacing:-1.700px;left:785.00px;top:245.11px;-webkit-text-stroke:0.45px;">c</span>
<span class="t" id="t74" style="font-size:17px;color:#141414;font-weight:400;letter-spacing:0.267px;left:803.75px;top:353.81px;-webkit-text-stroke:0.45px;">30Ω</span>
<span class="t" id="t75" style="font-size:17px;color:#141414;font-weight:400;letter-spacing:0.400px;left:251.50px;top:545.71px;-webkit-text-stroke:0.45px;">20Ω</span>
<span class="t" id="t76" style="font-size:17px;color:#141414;font-weight:400;letter-spacing:-0.043px;left:68.50px;top:473.81px;-webkit-text-stroke:0.45px;">5V Peak</span>
</div>
</body></html>
